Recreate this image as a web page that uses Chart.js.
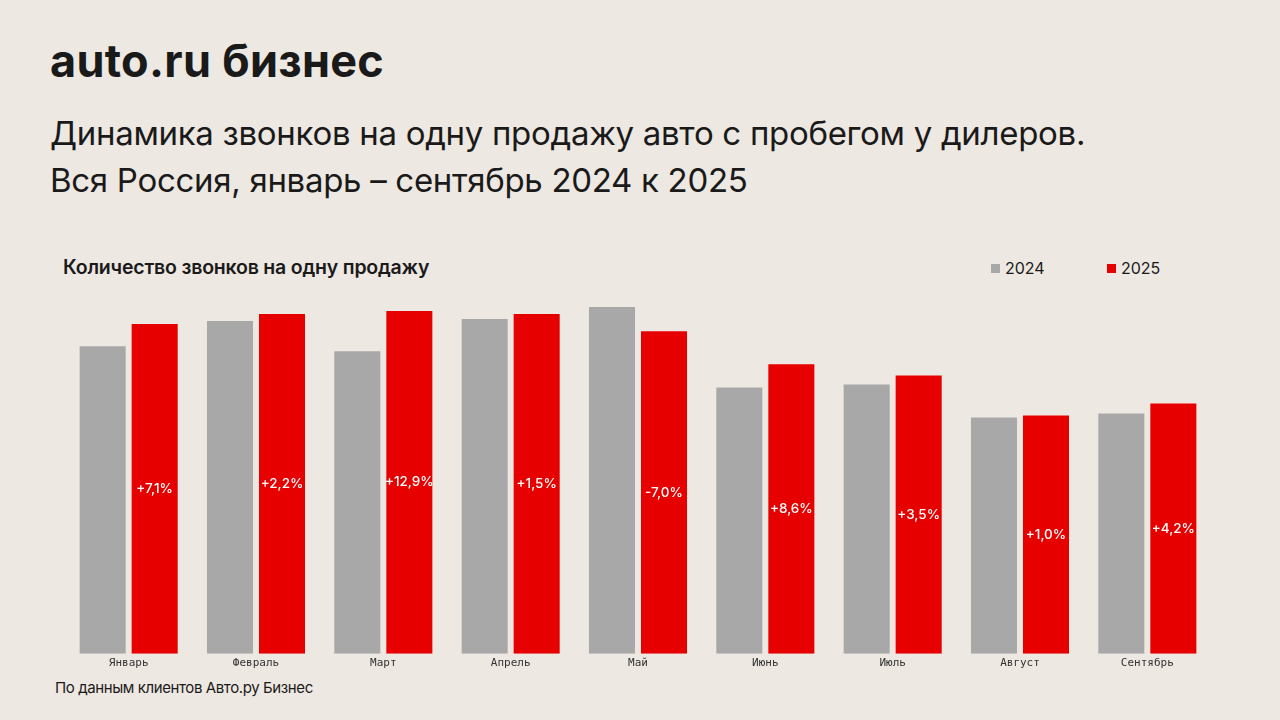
<!DOCTYPE html>
<html>
<head>
<meta charset="utf-8">
<script src="https://cdn.jsdelivr.net/npm/chart.js@4"></script>
<style>
  html,body{margin:0;padding:0;}
  body{width:1280px;height:720px;background:#EEE8E2;position:relative;overflow:hidden;font-family:Inter,"Noto Sans",sans-serif;color:#1a1a1a;}
  .logo{position:absolute;left:50px;top:33px;font-size:45px;font-weight:700;letter-spacing:0.3px;}
  .title{position:absolute;left:50px;top:110px;font-size:33px;line-height:47px;font-weight:400;letter-spacing:-0.3px;}
  .sub{position:absolute;left:63px;top:255px;font-size:19.5px;font-weight:600;letter-spacing:-0.2px;}
  .leg{position:absolute;top:258px;font-size:16px;display:flex;align-items:center;}
  .leg i{display:inline-block;width:9px;height:9px;margin-right:5px;}
  .foot{position:absolute;left:55px;top:678px;font-size:15px;letter-spacing:-0.4px;}
  #wrap{position:absolute;left:0;top:300px;width:1280px;height:380px;}
</style>
</head>
<body>
<div class="logo">auto.ru бизнес</div>
<div class="title">Динамика звонков на одну продажу авто с пробегом у дилеров.<br>Вся Россия, январь – сентябрь 2024 к 2025</div>
<div class="sub">Количество звонков на одну продажу</div>
<div class="leg" style="left:991px"><i style="background:#A8A8A8"></i>2024</div>
<div class="leg" style="left:1107px"><i style="background:#E60000"></i>2025</div>
<div class="foot">По данным клиентов Авто.ру Бизнес</div>
<div id="wrap"><canvas id="c"></canvas></div>
<script>
const categories = ["Январь","Февраль","Март","Апрель","Май","Июнь","Июль","Август","Сентябрь"];
const values2024 = [30.6, 33.1, 30.1, 33.3, 34.5, 26.5, 26.8, 23.5, 23.9];
const values2025 = [32.8, 33.8, 34.1, 33.8, 32.1, 28.8, 27.7, 23.7, 24.9];
const changeLabels = ["+7,1%","+2,2%","+12,9%","+1,5%","-7,0%","+8,6%","+3,5%","+1,0%","+4,2%"];

const barLabelPlugin = {
  id:'barLabels',
  afterDatasetsDraw(chart){
    const ctx = chart.ctx;
    const meta = chart.getDatasetMeta(1);
    ctx.save();
    ctx.fillStyle = '#ffffff';
    ctx.font = '500 13.5px Inter, "Noto Sans", sans-serif';
    ctx.textAlign = 'center';
    ctx.textBaseline = 'middle';
    meta.data.forEach((bar,i)=>{
      const p = bar.getProps(['x','y','base'], true);
      ctx.fillText(changeLabels[i], p.x, (p.y + p.base)/2);
    });
    ctx.restore();
  }
};

new Chart(document.getElementById('c'), {
  type:'bar',
  data:{
    labels:categories,
    datasets:[
      {label:'2024', data:values2024, backgroundColor:'#A8A8A8', categoryPercentage:0.817, barPercentage:0.885},
      {label:'2025', data:values2025, backgroundColor:'#E60000', categoryPercentage:0.817, barPercentage:0.885}
    ]
  },
  options:{
    responsive:true,
    maintainAspectRatio:false,
    animation:false,
    layout:{padding:{left:65,right:69,top:2,bottom:7}},
    plugins:{legend:{display:false},tooltip:{enabled:false}},
    scales:{
      y:{display:false,min:0,max:35},
      x:{
        grid:{display:false,drawTicks:false},
        border:{display:false},
        ticks:{padding:3,color:'#333',font:{family:'"DejaVu Sans Mono"',size:11}}
      }
    }
  },
  plugins:[barLabelPlugin]
});
</script>
</body>
</html>
